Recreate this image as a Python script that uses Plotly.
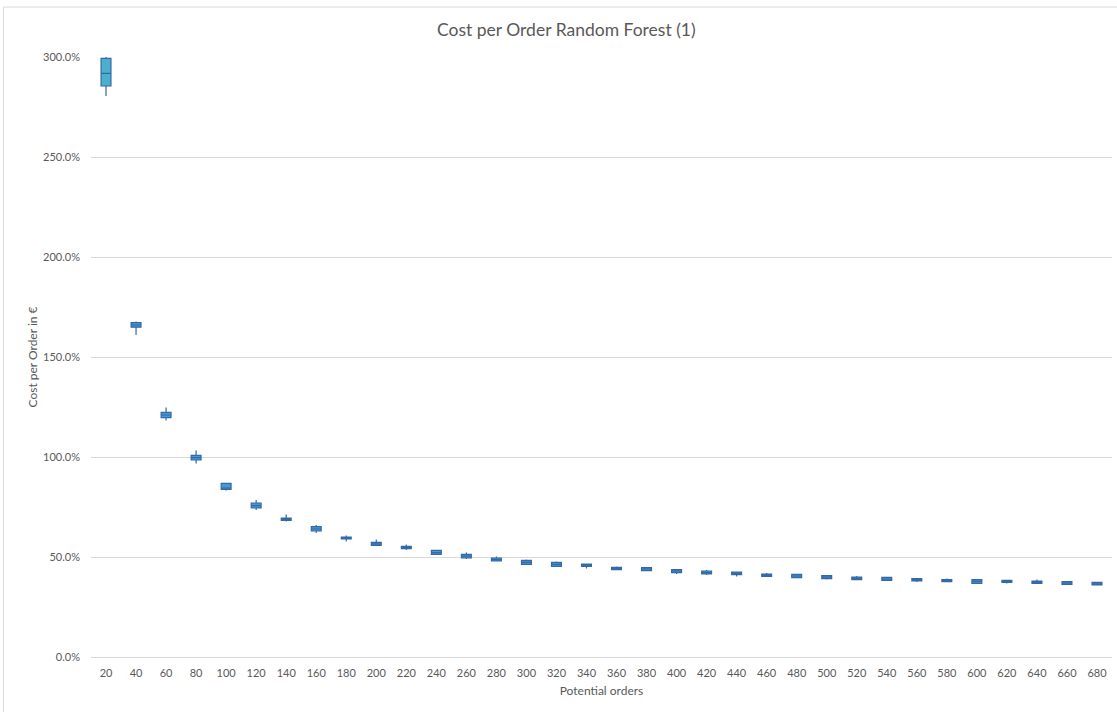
import plotly.graph_objects as go

categories = ["20", "40", "60", "80", "100", "120", "140", "160", "180", "200",
              "220", "240", "260", "280", "300", "320", "340", "360", "380", "400",
              "420", "440", "460", "480", "500", "520", "540", "560", "580", "600",
              "620", "640", "660", "680"]

lower = [2.805, 1.610, 1.182, 0.968, 0.832, 0.735, 0.678, 0.620, 0.578, 0.558,
         0.535, 0.513, 0.490, 0.477, 0.463, 0.453, 0.442, 0.437, 0.432, 0.415,
         0.410, 0.403, 0.400, 0.397, 0.388, 0.387, 0.383, 0.375, 0.377, 0.368,
         0.368, 0.368, 0.363, 0.360]
q1 = [2.855, 1.649, 1.197, 0.985, 0.838, 0.745, 0.683, 0.630, 0.590, 0.558,
      0.542, 0.513, 0.495, 0.480, 0.463, 0.453, 0.453, 0.437, 0.432, 0.422,
      0.415, 0.412, 0.403, 0.397, 0.392, 0.387, 0.383, 0.380, 0.377, 0.368,
      0.373, 0.368, 0.363, 0.360]
median = [2.918, 1.660, 1.210, 0.997, 0.845, 0.757, 0.689, 0.640, 0.595, 0.566,
          0.548, 0.522, 0.504, 0.487, 0.473, 0.463, 0.459, 0.442, 0.440, 0.430,
          0.422, 0.418, 0.409, 0.405, 0.399, 0.393, 0.390, 0.386, 0.382, 0.378,
          0.378, 0.374, 0.370, 0.366]
q3 = [2.993, 1.672, 1.223, 1.008, 0.868, 0.770, 0.695, 0.652, 0.600, 0.573,
      0.553, 0.533, 0.513, 0.495, 0.483, 0.473, 0.465, 0.448, 0.447, 0.437,
      0.430, 0.425, 0.415, 0.413, 0.407, 0.400, 0.398, 0.392, 0.387, 0.387,
      0.383, 0.380, 0.377, 0.373]
upper = [3.000, 1.677, 1.247, 1.033, 0.868, 0.785, 0.712, 0.660, 0.608, 0.588,
         0.562, 0.533, 0.522, 0.502, 0.488, 0.478, 0.465, 0.452, 0.447, 0.437,
         0.435, 0.425, 0.420, 0.413, 0.407, 0.405, 0.398, 0.395, 0.392, 0.387,
         0.383, 0.388, 0.377, 0.373]

font_family = "Lato, 'Open Sans', sans-serif"
grey = "#595959"

fig = go.Figure()
# first box (teal) and remaining boxes (blue)
for sl, fill in ((slice(0, 1), "#4BB0CC"), (slice(1, None), "#4A98D0")):
    fig.add_trace(go.Box(
        x=categories[sl], q1=q1[sl], median=median[sl], q3=q3[sl],
        lowerfence=lower[sl], upperfence=upper[sl],
        fillcolor=fill,
        line=dict(color="#3469A8", width=1.2),
        whiskerwidth=0,
        boxpoints=False,
        hoverinfo="skip",
        showlegend=False,
    ))

fig.update_layout(
    width=1117, height=712,
    margin=dict(l=91, r=5, t=57, b=55),
    paper_bgcolor="white", plot_bgcolor="white",
    font=dict(family=font_family, color=grey, size=11),
    title=dict(text="Cost per Order Random Forest (1)", x=0.507, xanchor="center",
               y=0.958, yanchor="middle", font=dict(size=17.5, color=grey)),
    boxgap=0.53, boxmode="overlay",
    shapes=[dict(type="rect", xref="paper", yref="paper",
                 x0=-0.0857, x1=1.2, y0=-0.3, y1=1.0833,
                 line=dict(color="#D9D9D9", width=1), fillcolor="rgba(0,0,0,0)",
                 layer="below")],
)
fig.update_xaxes(
    type="category", categoryorder="array", categoryarray=categories,
    showgrid=False, showline=True, linecolor="#D9D9D9", linewidth=1,
    ticks="", tickfont=dict(size=11, color=grey), ticklabelstandoff=6,
    title=dict(text="Potential orders", font=dict(size=12, color=grey), standoff=8),
)
fig.update_yaxes(
    range=[0, 3.0], dtick=0.5, tickformat=".1%",
    showgrid=True, gridcolor="#D9D9D9", gridwidth=1,
    zeroline=False, showline=False, ticks="", ticklabelstandoff=10,
    tickfont=dict(size=11, color=grey),
    title=dict(text="Cost per Order in €", font=dict(size=12, color=grey), standoff=2),
)

fig.write_html("out.html", config={"displayModeBar": False},
               post_script="document.body.style.margin='0';document.body.style.overflow='hidden';")
